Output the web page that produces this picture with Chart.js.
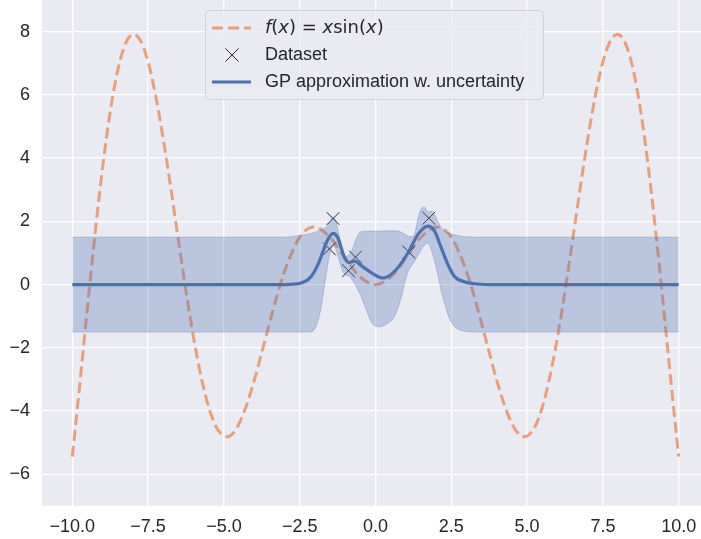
<!DOCTYPE html>
<html><head><meta charset="utf-8">
<script src="https://cdn.jsdelivr.net/npm/chart.js@4.4.1/dist/chart.umd.min.js"></script>
<style>
html,body{margin:0;padding:0;background:#fff;overflow:hidden;}
#wrap{width:701px;height:539px;overflow:hidden;position:relative;}
canvas{display:block;}
</style>
</head><body>
<div id="wrap"><canvas id="c" width="709" height="539"></canvas></div>
<script>
// f(x) = x sin(x)
const fX = [-10,-9.75,-9.5,-9.25,-9,-8.75,-8.5,-8.25,-7.979,-7.75,-7.5,-7.25,-7,-6.75,-6.5,-6.25,-6,-5.75,-5.5,-5.25,-4.913,-4.75,-4.5,-4.25,-4,-3.75,-3.5,-3.25,-3,-2.5,-2.029,-1.5,-1,-0.5,0,0.5,1,1.5,2.029,2.5,3,3.25,3.5,3.75,4,4.25,4.5,4.75,4.913,5.25,5.5,5.75,6,6.25,6.5,6.75,7,7.25,7.5,7.75,7.979,8.25,8.5,8.75,9,9.25,9.5,9.75,10];
const fY = [-5.44,-3.12,-0.71,1.61,3.71,5.47,6.79,7.61,7.92,7.71,7.04,5.97,4.60,3.04,1.40,-0.21,-1.68,-2.92,-3.88,-4.51,-4.81,-4.75,-4.40,-3.80,-3.03,-2.14,-1.23,-0.35,0.42,1.50,1.82,1.50,0.84,0.24,0,0.24,0.84,1.50,1.82,1.50,0.42,-0.35,-1.23,-2.14,-3.03,-3.80,-4.40,-4.75,-4.81,-4.51,-3.88,-2.92,-1.68,-0.21,1.40,3.04,4.60,5.97,7.04,7.71,7.92,7.61,6.79,5.47,3.71,1.61,-0.71,-3.12,-5.44];

// Dataset (noisy observations)
const dataX = [-1.40,-1.52,-0.66,-0.89,1.10,1.76];
const dataY = [2.09,1.13,0.87,0.44,1.03,2.10];

// GP mean
const meanX = [-10,-3.2,-2.8,-2.45,-2.12,-1.90,-1.73,-1.57,-1.40,-1.24,-1.13,-1.02,-0.86,-0.69,-0.47,-0.09,0.24,0.63,1.07,1.40,1.73,1.95,2.17,2.39,2.60,2.93,3.38,3.8,10];
const meanY = [0,0,0.01,0.05,0.26,0.63,1.06,1.43,1.62,1.48,1.16,0.85,0.70,0.74,0.60,0.35,0.21,0.42,1.00,1.59,1.85,1.69,1.16,0.63,0.26,0.09,0.02,0,0];

// uncertainty band
const bandX = [-10,-3.0,-2.45,-2.12,-2.01,-1.90,-1.80,-1.73,-1.63,-1.52,-1.40,-1.30,-1.19,-1.07,-0.97,-0.86,-0.75,-0.64,-0.53,-0.42,-0.31,-0.09,0.13,0.35,0.63,0.85,0.96,1.07,1.18,1.29,1.40,1.51,1.62,1.73,1.84,1.95,2.06,2.17,2.28,2.39,2.60,2.83,3.05,3.5,10];
const bandUpper = [1.5,1.5,1.56,1.62,1.65,1.69,1.72,1.76,1.81,1.95,2.14,2.0,1.5,1.05,0.9,0.95,1.15,1.45,1.64,1.68,1.69,1.69,1.69,1.70,1.70,1.66,1.6,1.53,1.52,1.6,2.1,2.4,2.45,2.30,2.33,2.2,2.0,1.8,1.69,1.64,1.58,1.53,1.51,1.5,1.5];
const bandLower = [-1.5,-1.5,-1.5,-1.49,-1.4,-1.15,-0.75,-0.32,0.3,0.92,1.22,1.1,0.74,0.4,0.3,0.26,0.12,-0.05,-0.26,-0.5,-0.79,-1.25,-1.33,-1.25,-1.0,-0.4,0.05,0.4,0.58,0.74,0.93,1.11,1.25,1.32,1.1,0.74,0.3,-0.21,-0.6,-0.95,-1.32,-1.45,-1.49,-1.5,-1.5];

const xTicks = [-10,-7.5,-5,-2.5,0,2.5,5,7.5,10];
const yTicks = [-6,-4,-2,0,2,4,6,8];

const pts = (xs, ys) => xs.map((x, i) => ({x: x, y: ys[i]}));
const minus = s => String(s).replace('-', '\u2212');
const TXT = '#262626';
const FONT = {family: '"Liberation Sans", Arial, sans-serif', size: 18};
const AREA = {left: 42, top: 0, right: 709, bottom: 506};

const areaPlugin = {
  id: 'fixArea',
  afterLayout(chart) {
    const a = chart.chartArea;
    a.left = AREA.left; a.top = AREA.top; a.right = AREA.right; a.bottom = AREA.bottom;
    a.width = AREA.right - AREA.left; a.height = AREA.bottom - AREA.top;
    const x = chart.scales.x, y = chart.scales.y;
    x.left = AREA.left; x.right = AREA.right; x.width = a.width;
    x.top = AREA.bottom; x.bottom = chart.height; x.height = chart.height - AREA.bottom;
    y.left = 0; y.right = AREA.left; y.width = AREA.left;
    y.top = AREA.top; y.bottom = AREA.bottom; y.height = a.height;
    x.configure(); y.configure();
  }
};

const bgPlugin = {
  id: 'bg',
  beforeDraw(chart) {
    const {ctx, chartArea: a} = chart;
    ctx.save();
    ctx.fillStyle = '#EAEAF2';
    ctx.fillRect(a.left, a.top, a.right - a.left, a.bottom - a.top);
    ctx.restore();
  }
};

const legendPlugin = {
  id: 'customLegend',
  afterDraw(chart) {
    const ctx = chart.ctx;
    ctx.save();
    const bx = 205.5, by = 10.5, bw = 338, bh = 89, r = 4;
    ctx.beginPath();
    ctx.moveTo(bx + r, by);
    ctx.arcTo(bx + bw, by, bx + bw, by + bh, r);
    ctx.arcTo(bx + bw, by + bh, bx, by + bh, r);
    ctx.arcTo(bx, by + bh, bx, by, r);
    ctx.arcTo(bx, by, bx + bw, by, r);
    ctx.closePath();
    ctx.fillStyle = 'rgba(234,234,242,0.8)';
    ctx.fill();
    ctx.strokeStyle = 'rgba(204,204,204,0.8)';
    ctx.lineWidth = 1;
    ctx.stroke();

    const rows = [28, 55, 82];
    const hx0 = 212, hx1 = 251, tx = 265;
    ctx.beginPath();
    ctx.setLineDash([11, 5]);
    ctx.strokeStyle = 'rgba(232,140,92,0.8)';
    ctx.lineWidth = 3;
    ctx.moveTo(hx0, rows[0]); ctx.lineTo(hx1, rows[0]);
    ctx.stroke();
    ctx.setLineDash([]);
    ctx.beginPath();
    ctx.strokeStyle = TXT;
    ctx.lineWidth = 1;
    const mx = 232, my = rows[1], s = 6.5;
    ctx.moveTo(mx - s, my - s); ctx.lineTo(mx + s, my + s);
    ctx.moveTo(mx - s, my + s); ctx.lineTo(mx + s, my - s);
    ctx.stroke();
    ctx.beginPath();
    ctx.strokeStyle = '#4C72B0';
    ctx.lineWidth = 3;
    ctx.moveTo(hx0, rows[2]); ctx.lineTo(hx1, rows[2]);
    ctx.stroke();

    ctx.fillStyle = TXT;
    ctx.textBaseline = 'middle';
    ctx.textAlign = 'left';
    const parts = [['f', true], ['(', false], ['x', true], [')', false], [' = ', false], ['x', true], ['sin(', false], ['x', true], [')', false]];
    let cx = tx;
    for (const [t, it] of parts) {
      ctx.font = (it ? 'italic ' : '') + '18px "DejaVu Sans", sans-serif';
      ctx.fillText(t, cx, rows[0]);
      cx += ctx.measureText(t).width;
    }
    ctx.font = '18px "Liberation Sans", Arial, sans-serif';
    ctx.fillText('Dataset', tx, rows[1]);
    ctx.fillText('GP approximation w. uncertainty', tx, rows[2]);
    ctx.restore();
  }
};

new Chart(document.getElementById('c'), {
  type: 'line',
  data: {
    datasets: [
      {
        label: 'f(x) = xsin(x)',
        data: pts(fX, fY),
        borderColor: 'rgba(232,140,92,0.8)',
        borderWidth: 3,
        borderDash: [11, 5],
        pointRadius: 0,
        cubicInterpolationMode: 'monotone',
        fill: false,
        order: 4
      },
      {
        type: 'scatter',
        label: 'Dataset',
        data: pts(dataX, dataY),
        pointStyle: 'crossRot',
        pointRadius: 9,
        borderColor: TXT,
        borderWidth: 1,
        showLine: false,
        order: 3
      },
      {
        label: 'GP approximation w. uncertainty',
        data: pts(meanX, meanY),
        borderColor: '#4C72B0',
        borderWidth: 3.2,
        pointRadius: 0,
        cubicInterpolationMode: 'monotone',
        fill: false,
        order: 2
      },
      {
        label: 'lower',
        data: pts(bandX, bandLower),
        borderColor: 'rgba(76,114,176,0.3)',
        borderWidth: 1,
        pointRadius: 0,
        cubicInterpolationMode: 'monotone',
        fill: false,
        order: 1
      },
      {
        label: 'upper',
        data: pts(bandX, bandUpper),
        borderColor: 'rgba(76,114,176,0.3)',
        backgroundColor: 'rgba(76,114,176,0.3)',
        borderWidth: 1,
        pointRadius: 0,
        cubicInterpolationMode: 'monotone',
        fill: '-1',
        order: 1
      }
    ]
  },
  options: {
    responsive: false,
    animation: false,
    devicePixelRatio: 1,
    layout: {padding: 0},
    plugins: {legend: {display: false}, tooltip: {enabled: false}},
    scales: {
      x: {
        type: 'linear', min: -11, max: 11,
        afterBuildTicks: s => { s.ticks = xTicks.map(v => ({value: v})); },
        afterFit: s => { s.height = 33; },
        ticks: {callback: v => minus(Number(v).toFixed(1)), font: FONT, color: TXT, padding: 10, maxRotation: 0, autoSkip: false},
        grid: {color: '#ffffff', lineWidth: 1.3, drawTicks: false},
        border: {display: false}
      },
      y: {
        type: 'linear', min: -7, max: 9,
        afterBuildTicks: s => { s.ticks = yTicks.map(v => ({value: v})); },
        afterFit: s => { s.width = 42; },
        ticks: {callback: v => minus(v), font: FONT, color: TXT, padding: 12, autoSkip: false},
        grid: {color: '#ffffff', lineWidth: 1.3, drawTicks: false},
        border: {display: false}
      }
    }
  },
  plugins: [areaPlugin, bgPlugin, legendPlugin]
});
</script>
</body></html>
